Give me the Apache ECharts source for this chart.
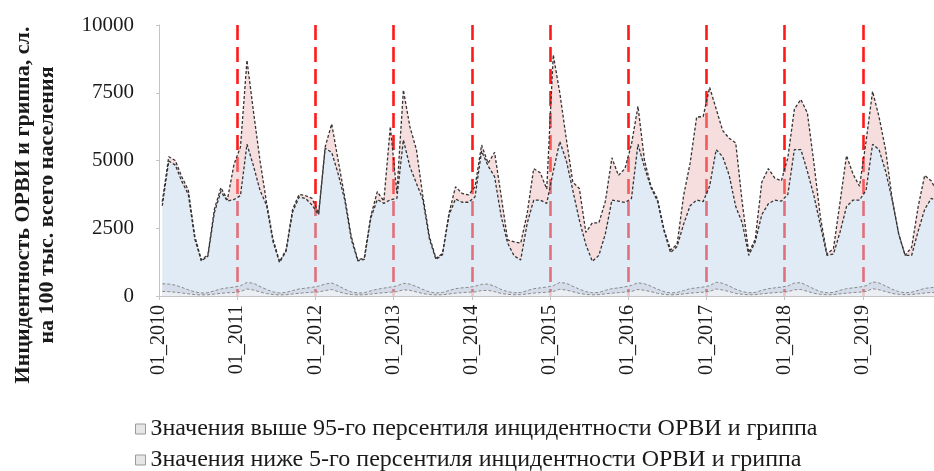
<!DOCTYPE html>
<html><head><meta charset="utf-8">
<script src="https://cdn.jsdelivr.net/npm/echarts@6/dist/echarts.min.js"></script>
<style>html,body{margin:0;padding:0;background:#fff}#c{width:934px;height:471px}</style>
</head><body><div id="c"></div>
<script>
const tickLabels = ['01_2010','01_2011','01_2012','01_2013','01_2014','01_2015','01_2016','01_2017','01_2018','01_2019'];
const years = [2010,2011,2012,2013,2014,2015,2016,2017,2018,2019];
const monthNums = ['01','02','03','04','05','06','07','08','09','10','11','12'];
const months = [];
years.forEach(y => monthNums.forEach(m => months.push(m + '_' + y)));

// Incidence of ARVI and influenza per 100k (monthly)
const incidence = [
  3480, 5140, 5000, 4400, 3900, 2200, 1330, 1520, 3200, 4000, 3550, 4850,
  5500, 8700, 6800, 5000, 3450, 2100, 1270, 1700, 3200, 3750, 3700, 3600,
  3050, 5500, 6350, 5000, 3650, 2200, 1330, 1400, 2950, 3850, 3500, 6250,
  3800, 7600, 6250, 5400, 3660, 2190, 1390, 1570, 3050, 4030, 3790, 3730,
  4030, 5570, 4900, 5300, 3700, 2070, 2000, 1950, 3050, 4700, 4550, 3950,
  8900, 7500, 5800, 4200, 3970, 2350, 2700, 2700, 3500, 5100, 4450, 4700,
  5600, 7000, 5000, 4050, 3580, 2450, 1700, 1900, 3700, 4900, 6600, 6620,
  7700, 6900, 6100, 5820, 5650, 3450, 1600, 2100, 4200, 4700, 4350, 4250,
  5100, 6900, 7250, 6750, 4900, 2900, 1550, 1750, 3450, 5180, 4500, 4050,
  5700, 7550, 6600, 5400, 3600, 2300, 1500, 1800, 3300, 4450, 4250, 3800
];
// 95th percentile
const p95 = [
  3330, 4980, 4830, 4230, 3750, 2100, 1290, 1470, 3080, 3860, 3500, 3560,
  3700, 5600, 4800, 3900, 3350, 2000, 1240, 1650, 3100, 3650, 3600, 3350,
  3000, 5450, 5300, 4500, 3550, 2100, 1300, 1350, 2880, 3560, 3420, 3550,
  3600, 5760, 4770, 4160, 3550, 2100, 1350, 1520, 2980, 3580, 3460, 3460,
  3660, 5350, 4800, 4400, 2950, 1950, 1480, 1330, 2680, 3540, 3540, 3420,
  4600, 5700, 5000, 3900, 2800, 1900, 1280, 1500, 2300, 3540, 3500, 3450,
  3600, 5600, 4750, 4000, 3500, 2400, 1600, 1830, 2650, 3330, 3540, 3480,
  4060, 5400, 5140, 4450, 3300, 2700, 1500, 2000, 3000, 3400, 3540, 3500,
  3750, 5400, 5400, 4600, 3700, 2600, 1500, 1550, 2350, 3300, 3540, 3540,
  3900, 5600, 5400, 4600, 3550, 2300, 1500, 1500, 2400, 3200, 3600, 3500
];
// 5th percentile band (upper line)
const p5Upper = [
  450, 440, 400, 320, 230, 150, 110, 120, 190, 260, 300, 330,
  380, 500, 470, 350, 240, 150, 110, 130, 200, 260, 290, 320,
  360, 440, 480, 380, 250, 150, 110, 120, 190, 250, 290, 330,
  370, 470, 440, 350, 240, 150, 110, 130, 200, 270, 300, 320,
  360, 430, 440, 360, 240, 160, 120, 130, 200, 270, 300, 330,
  380, 500, 470, 360, 250, 160, 120, 130, 210, 270, 300, 340,
  390, 490, 450, 360, 250, 160, 110, 130, 200, 270, 300, 330,
  380, 510, 470, 370, 250, 160, 120, 130, 210, 270, 300, 330,
  370, 480, 490, 380, 260, 160, 120, 130, 210, 270, 300, 330,
  380, 520, 480, 370, 250, 160, 120, 140, 210, 280, 310, 330
];
// lower line
const p5Lower = [
  170, 160, 140, 110, 80, 50, 40, 45, 70, 100, 120, 130,
  160, 260, 220, 150, 90, 55, 40, 45, 75, 100, 120, 140,
  150, 200, 240, 160, 95, 55, 40, 45, 70, 100, 120, 140,
  160, 230, 210, 150, 90, 55, 40, 45, 75, 105, 125, 140,
  150, 200, 210, 160, 95, 60, 45, 50, 75, 105, 125, 140,
  170, 250, 220, 160, 95, 60, 45, 50, 80, 105, 125, 145,
  170, 240, 210, 160, 95, 60, 40, 50, 75, 105, 125, 140,
  170, 260, 220, 165, 95, 60, 45, 50, 80, 105, 125, 140,
  160, 230, 240, 170, 100, 60, 45, 50, 80, 105, 125, 140,
  170, 270, 230, 165, 95, 60, 45, 55, 80, 110, 130, 140
];
const yTicks = [0, 2500, 5000, 7500, 10000];
const legendNames = [
  'Значения выше 95-го персентиля инцидентности ОРВИ и гриппа',
  'Значения ниже 5-го персентиля инцидентности ОРВИ и гриппа'
];
const yTitle = 'Инцидентность ОРВИ и гриппа, сл.\nна 100 тыс. всего населения';

const below95 = incidence.map((v, i) => Math.min(v, p95[i]));
const above95 = incidence.map((v, i) => v - below95[i]);

const FONT = 'Liberation Serif';
const curveLine = { color: '#333333', width: 1.3, type: [3, 2] };
const legendText = { fontFamily: FONT, fontSize: 24, color: '#1a1a1a' };
const legendItem = n => ({ name: n, icon: 'rect',
  itemStyle: { color: '#e6e6e6', borderColor: '#9a9a9a', borderWidth: 1 },
  textStyle: legendText });

const chart = echarts.init(document.getElementById('c'), null, { renderer: 'canvas' });
chart.setOption({
  animation: false,
  backgroundColor: '#fff',
  textStyle: { fontFamily: FONT },
  grid: { left: 159, right: -7, top: 25, bottom: 175, containLabel: false, outerBoundsMode: 'none' },
  xAxis: [
    { type: 'category', data: months, boundaryGap: true, show: false },
    {
      type: 'value', min: 0, max: 120, interval: 12, position: 'bottom',
      axisLine: { show: true, lineStyle: { color: '#c4c4c4', width: 1 } },
      axisTick: { show: true, length: 4, lineStyle: { color: '#c4c4c4' } },
      splitLine: { show: true, showMinLine: false, showMaxLine: false,
        lineStyle: { color: '#ff1a1a', width: 2.6, type: [15, 7] } },
      axisLabel: {
        rotate: 90, margin: 9, fontFamily: FONT, fontSize: 20, color: '#1a1a1a',
        formatter: v => tickLabels[Math.round(v / 12)] || ''
      }
    }
  ],
  yAxis: {
    type: 'value', min: yTicks[0], max: yTicks[yTicks.length - 1], interval: 2500,
    axisLine: { show: true, lineStyle: { color: '#c4c4c4' } },
    axisTick: { show: true, length: 3, lineStyle: { color: '#c4c4c4' } },
    splitLine: { show: false },
    axisLabel: { margin: 25, fontFamily: FONT, fontSize: 21, color: '#1a1a1a',
      formatter: v => String(v) }
  },
  legend: [
    { left: 130, top: 412, itemWidth: 10, itemHeight: 10, itemGap: 5,
      textStyle: legendText, data: [legendItem(legendNames[0])] },
    { left: 130, top: 443, itemWidth: 10, itemHeight: 10, itemGap: 5,
      textStyle: legendText, data: [legendItem(legendNames[1])] }
  ],
  graphic: [{
    type: 'text', x: 35, y: 205, rotation: Math.PI / 2, silent: true,
    style: { text: yTitle, font: 'bold 22px "Liberation Serif"', fill: '#1a1a1a',
      align: 'center', verticalAlign: 'middle', textAlign: 'center', textVerticalAlign: 'middle', lineHeight: 24 }
  }],
  series: [
    {
      name: 'base', type: 'line', xAxisIndex: 0, stack: 'inc', data: below95,
      showSymbol: false, symbol: 'none', z: 3,
      lineStyle: curveLine,
      areaStyle: { color: 'rgba(188,211,236,0.66)' }
    },
    {
      name: legendNames[0], type: 'line', xAxisIndex: 0, stack: 'inc', data: above95,
      showSymbol: false, symbol: 'none', z: 3,
      lineStyle: curveLine,
      areaStyle: { color: 'rgba(236,176,176,0.6)' }
    },
    {
      name: legendNames[1], type: 'line', xAxisIndex: 0, data: p5Upper,
      showSymbol: false, symbol: 'none', z: 4,
      lineStyle: { color: '#8a8a8a', width: 1, type: [3, 2] },
      areaStyle: { color: 'rgba(170,172,182,0.3)' }
    },
    {
      name: 'low', type: 'line', xAxisIndex: 0, data: p5Lower,
      showSymbol: false, symbol: 'none', z: 4,
      lineStyle: { color: '#8a8a8a', width: 1, type: [3, 2] },
      areaStyle: { color: 'rgba(250,250,250,0.85)' }
    }
  ]
});
</script></body></html>
